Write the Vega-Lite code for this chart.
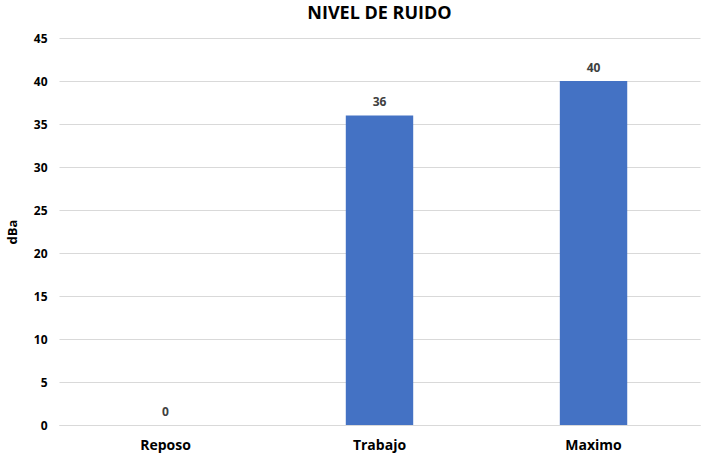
{
  "$schema": "https://vega.github.io/schema/vega-lite/v6.json",
  "background": "white",
  "width": 705,
  "height": 458,
  "autosize": {"type": "fit", "contains": "padding"},
  "padding": {"left": 6, "top": 5, "right": 5, "bottom": 6},
  "title": {
    "text": "NIVEL DE RUIDO",
    "font": "Open Sans",
    "fontSize": 18,
    "fontWeight": "bold",
    "color": "#000000",
    "offset": 9
  },
  "data": {
    "values": [
      {"Estado": "Reposo", "dBa": 0},
      {"Estado": "Trabajo", "dBa": 36},
      {"Estado": "Maximo", "dBa": 40}
    ]
  },
  "config": {
    "view": {"stroke": null},
    "font": "Open Sans"
  },
  "encoding": {
    "x": {
      "field": "Estado",
      "type": "nominal",
      "sort": null,
      "scale": {"paddingInner": 0.685, "paddingOuter": 0.34},
      "axis": {
        "title": null,
        "labelAngle": 0,
        "labelFontSize": 14,
        "labelFontWeight": "bold",
        "labelColor": "#000000",
        "labelPadding": 13,
        "ticks": false,
        "domainColor": "#d9d9d9"
      }
    },
    "y": {
      "field": "dBa",
      "type": "quantitative",
      "scale": {"domain": [0, 45]},
      "axis": {
        "title": "dBa",
        "titleFontSize": 13,
        "titleFontWeight": "bold",
        "titleColor": "#000000",
        "titlePadding": 14,
        "values": [0, 5, 10, 15, 20, 25, 30, 35, 40, 45],
        "labelFontSize": 12,
        "labelFontWeight": "bold",
        "labelColor": "#000000",
        "labelPadding": 12,
        "ticks": false,
        "domain": false,
        "gridColor": "#d9d9d9"
      }
    }
  },
  "layer": [
    {
      "mark": {"type": "bar", "color": "#4472C4"}
    },
    {
      "mark": {
        "type": "text",
        "dy": -13,
        "fontSize": 12,
        "fontWeight": "bold",
        "color": "#404040"
      },
      "encoding": {"text": {"field": "dBa", "type": "quantitative"}}
    }
  ]
}
